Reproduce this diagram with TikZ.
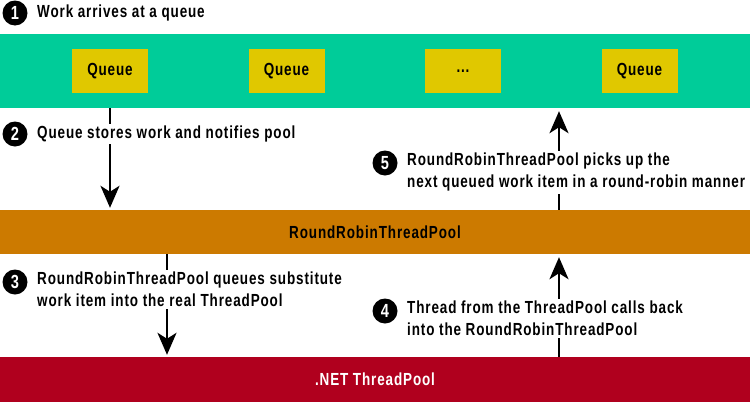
\documentclass[tikz,border=0pt]{standalone}
\usepackage{fontspec}
\newfontfamily\cf{Liberation Sans}[FakeStretch=0.77,LetterSpace=5]
\usetikzlibrary{arrows.meta}
\definecolor{bandgreen}{RGB}{0,204,153}
\definecolor{qyellow}{RGB}{224,200,0}
\definecolor{bandorange}{RGB}{204,122,0}
\definecolor{bandred}{RGB}{176,0,30}
\tikzset{
  band/.style={draw=none,minimum width=750pt,inner sep=0pt,font=\cf\bfseries\fontsize{17.5}{20}\selectfont},
  qbox/.style={fill=qyellow,draw=none,minimum width=76pt,minimum height=44pt,inner sep=0pt,font=\cf\bfseries\fontsize{17.5}{20}\selectfont},
  num/.style={circle,fill=black,text=white,minimum size=25pt,inner sep=0pt,font=\cf\bfseries\fontsize{19}{20}\selectfont},
  steptext/.style={fill=white,anchor=west,inner sep=2pt,align=left,font=\cf\bfseries\fontsize{17.5}{22}\selectfont},
  flow/.style={line width=2.5pt,-{Stealth[length=22pt,width=19pt,inset=6pt]}}
}
\begin{document}
\begin{tikzpicture}[x=1pt,y=-1pt]
\useasboundingbox (0,0) rectangle (750,402);
% bands
\node[band,fill=bandgreen,minimum height=74pt] (green) at (375,71) {};
\node[band,fill=bandorange,minimum height=44pt] (orange) at (375,232) {RoundRobinThreadPool};
\node[band,fill=bandred,minimum height=45pt,text=white] (red) at (375,379.5) {.NET ThreadPool};
% queues
\node[qbox] (q1) at (110,71) {Queue};
\node[qbox] (q2) at (286.5,71) {Queue};
\node[qbox] (q3) at (463,71) {...};
\node[qbox] (q4) at (639.5,71) {Queue};
% arrow x positions
\coordinate (xa) at (110,0);
\coordinate (xb) at (167,0);
\coordinate (xc) at (559,0);
% arrows
\draw[flow,shorten >=2pt] (green.south -| xa) -- (orange.north -| xa);
\draw[flow,shorten >=2pt] (orange.south -| xb) -- (red.north -| xb);
\draw[flow,shorten >=3pt] (red.north -| xc) -- (orange.south -| xc);
\draw[flow,shorten >=3pt] (orange.north -| xc) -- (green.south -| xc);
% steps
\node[num] (n1) at (15,13) {1};
\node[steptext] (t1) at (35,13) {Work arrives at a queue};
\node[num] (n2) at (15,134) {2};
\node[steptext] (t2) at (35,134) {Queue stores work and notifies pool};
\node[num] (n3) at (15,282) {3};
\node[steptext,anchor=north west] (t3) at (35,270) {RoundRobinThreadPool queues substitute\\work item into the real ThreadPool};
\node[num] (n4) at (385,311) {4};
\node[steptext,anchor=north west] (t4) at (405,299) {Thread from the ThreadPool calls back\\into the RoundRobinThreadPool};
\node[num] (n5) at (385,163) {5};
\node[steptext,anchor=north west] (t5) at (405,151) {RoundRobinThreadPool picks up the\\next queued work item in a round-robin manner};
\end{tikzpicture}
\end{document}
